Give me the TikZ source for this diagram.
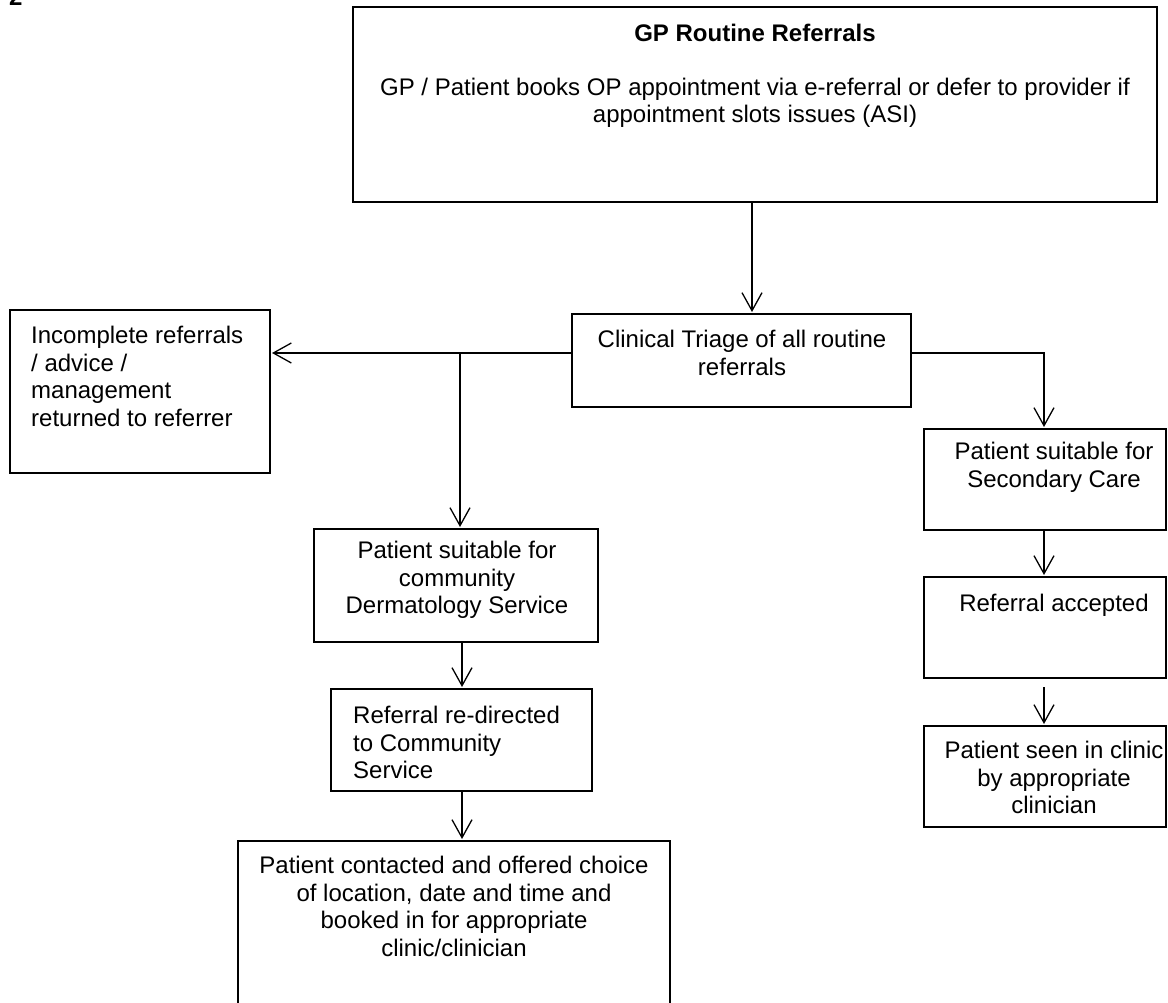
\documentclass[tikz,border=0pt]{standalone}
\usepackage{fontspec}
\setmainfont{Liberation Sans}
\usetikzlibrary{arrows.meta}

\tikzset{
  box/.style={draw, line width=2pt, inner sep=0pt, outer sep=0pt, anchor=north west},
  boxtext/.style={font=\fontsize{24}{27.5}\selectfont, inner sep=0pt, align=center, anchor=north},
  arr/.style={line width=1.3pt, -{Straight Barb[length=18pt,width=20pt]}, shorten >=2pt},
}

\begin{document}
\begin{tikzpicture}[x=1pt,y=1pt,yscale=-1]
        \useasboundingbox (0,0) rectangle (1168,1003);

        % guide points for the connectors
        \coordinate (cline) at (752,0);
        \coordinate (lline) at (460,353);
        \coordinate (mline) at (462,0);
        \coordinate (rline) at (1044,353);

        % Text Node
        \node[boxtext, font=\fontsize{24}{27.5}\selectfont\bfseries, anchor=base west] (num) at (9,6) {2};

        %Shape: Rectangle
        \node[box, minimum width=804pt, minimum height=195pt] (gp) at (353,7) {};
        %Shape: Rectangle
        \node[box, minimum width=339pt, minimum height=93pt] (tri) at (572,314) {};
        %Shape: Rectangle
        \node[box, minimum width=260pt, minimum height=163pt] (inc) at (10,310) {};
        %Shape: Rectangle
        \node[box, minimum width=284pt, minimum height=113pt] (derm) at (314,529) {};
        %Shape: Rectangle
        \node[box, minimum width=261pt, minimum height=102pt] (redir) at (331,689) {};
        %Shape: Rectangle
        \node[box, minimum width=432pt, minimum height=180pt] (contact) at (238,841) {};
        %Shape: Rectangle
        \node[box, minimum width=242pt, minimum height=101pt] (sec) at (924,429) {};
        %Shape: Rectangle
        \node[box, minimum width=242pt, minimum height=101pt] (acc) at (924,577) {};
        %Shape: Rectangle
        \node[box, minimum width=242pt, minimum height=101pt] (seen) at (924,726) {};

        % Text Node
        \node[boxtext] (gptext) at (755,24) {\textbf{GP Routine Referrals}\\[26pt]GP / Patient books OP appointment via e-referral or defer to provider if\\appointment slots issues (ASI)};
        % Text Node
        \node[boxtext] (tritext) at (742,330) {Clinical Triage of all routine\\referrals};
        % Text Node
        \node[boxtext, align=left, anchor=north west] (inctext) at (31,326) {Incomplete referrals\\/ advice /\\management\\returned to referrer};
        % Text Node
        \node[boxtext] (dermtext) at (457,541) {Patient suitable for\\community\\Dermatology Service};
        % Text Node
        \node[boxtext, align=left, anchor=north west] (redirtext) at (353,706) {Referral re-directed\\to Community\\Service};
        % Text Node
        \node[boxtext] (contacttext) at (454,856) {Patient contacted and offered choice\\of location, date and time and\\booked in for appropriate\\clinic/clinician};
        % Text Node
        \node[boxtext] (sectext) at (1054,442) {Patient suitable for\\Secondary Care};
        % Text Node
        \node[boxtext] (acctext) at (1054,594) {Referral accepted};
        % Text Node
        \node[boxtext] (seentext) at (1054,741) {Patient seen in clinic\\by appropriate\\clinician};

        % connectors
        \draw[arr] (gp.south -| cline) -- (tri.north -| cline);
        \draw[arr] (tri.west |- lline) -- (inc.east |- lline);
        \draw[arr] (lline) -- (derm.north -| lline);
        \draw[arr] (derm.south -| mline) -- (redir.north -| mline);
        \draw[arr] (redir.south -| mline) -- (contact.north -| mline);
        \draw[arr] (tri.east |- rline) -| (sec.north -| rline);
        \draw[arr] (sec.south -| rline) -- (acc.north -| rline);
        \draw[arr, shorten <=9pt] (acc.south -| rline) -- (seen.north -| rline);

\end{tikzpicture}
\end{document}
